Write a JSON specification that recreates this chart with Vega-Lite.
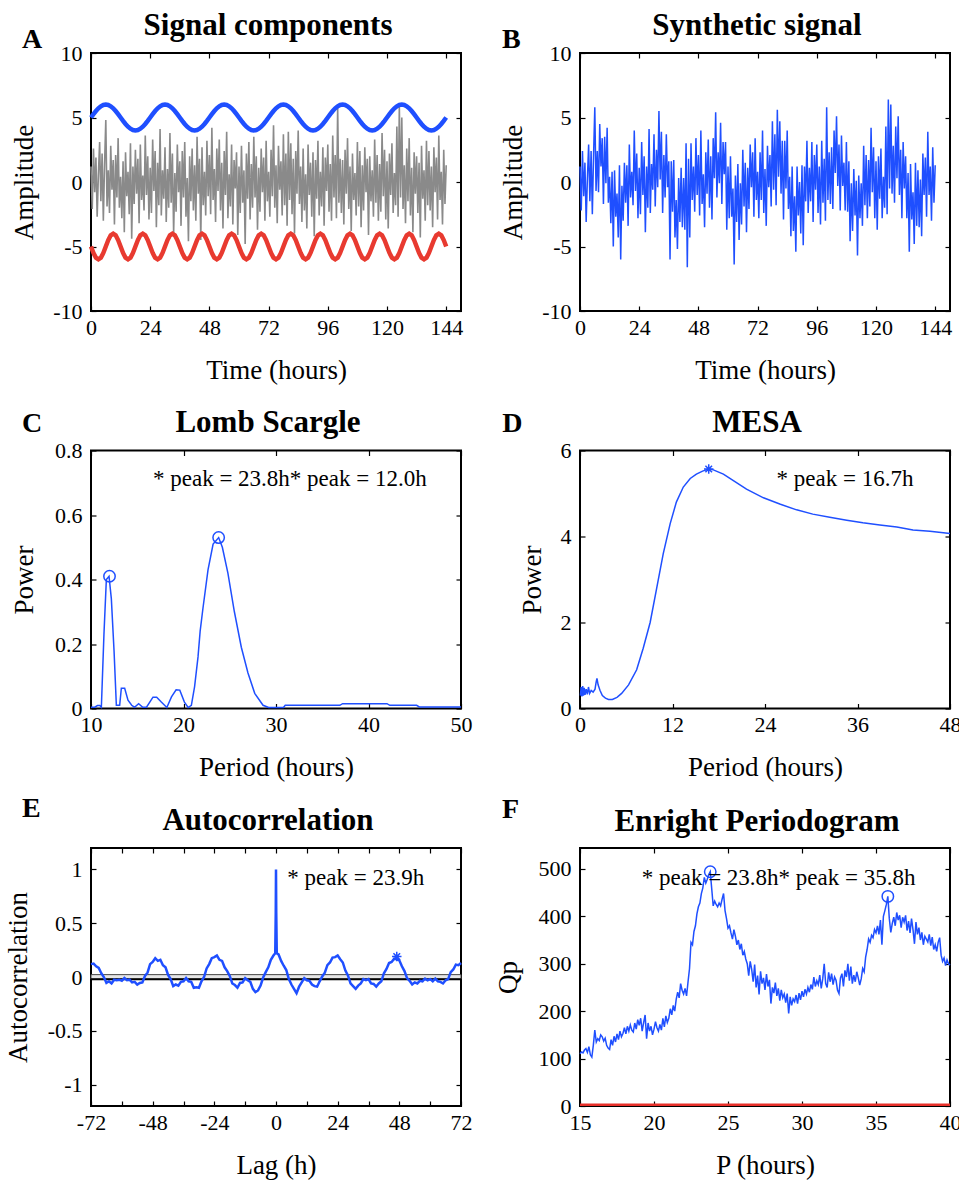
{
"$schema":"https://vega.github.io/schema/vega-lite/v6.json",
"background":"white",
"padding":{"left":3,"top":8,"right":10,"bottom":10},
"bounds":"flush",
"columns":2,
"spacing":{"row":139.5,"column":119},
"config":{
 "view":{"stroke":"black","strokeWidth":2},
 "font":"Liberation Serif",
 "axis":{"grid":false,"domain":false,"tickColor":"black","tickSize":-5,"tickWidth":1.2,"labelFont":"Liberation Serif","labelFontSize":22,"labelColor":"black","labelPadding":14,"labelFlush":false,"labelOverlap":false,"titleFont":"Liberation Serif","titleFontSize":27,"titleFontWeight":"normal","titleColor":"black","titlePadding":16},
 "axisX":{"labelPadding":11,"titlePadding":19},
 "title":{"font":"Liberation Serif","fontSize":31,"fontWeight":"bold","color":"black","offset":19.5,"baseline":"alphabetic","frame":"group","anchor":"middle","dx":-8},
 "text":{"font":"Liberation Serif","fontSize":23,"color":"black"}
},
"datasets":{
 "noise":[
{"t":0,"n":1.2,"b":1.2},{"t":0.5,"n":-2.1,"b":-2.2},{"t":1,"n":2.6,"b":2.4},{"t":1.5,"n":-0.8,"b":-1.1},{"t":2,"n":1.9,"b":1.5},{"t":2.5,"n":-2.7,"b":-3.1},{"t":3,"n":0.6,"b":0.3},{"t":3.5,"n":3.1,"b":2.9},{"t":4,"n":-1.5,"b":-1.5},{"t":4.5,"n":2.2,"b":2.4},{"t":5,"n":-3.0,"b":-2.5},{"t":5.5,"n":1.4,"b":2.1},
{"t":6,"n":4.8,"b":5.8},{"t":6.5,"n":-1.9,"b":-0.7},{"t":7,"n":0.9,"b":2.4},{"t":7.5,"n":-2.4,"b":-0.8},{"t":8,"n":2.8,"b":4.5},{"t":8.5,"n":-0.6,"b":1.2},{"t":9,"n":1.7,"b":3.4},{"t":9.5,"n":-3.3,"b":-1.7},{"t":10,"n":2.1,"b":3.5},{"t":10.5,"n":-1.2,"b":-0.1},{"t":11,"n":3.4,"b":4.2},{"t":11.5,"n":-2.0,"b":-1.6},
{"t":12,"n":0.4,"b":0.4},{"t":12.5,"n":-2.8,"b":-3.2},{"t":13,"n":1.6,"b":0.8},{"t":13.5,"n":-3.9,"b":-5.0},{"t":14,"n":2.3,"b":0.9},{"t":14.5,"n":-1.1,"b":-2.7},{"t":15,"n":0.8,"b":-0.9},{"t":15.5,"n":-2.5,"b":-4.3},{"t":16,"n":3.0,"b":1.3},{"t":16.5,"n":-4.4,"b":-6.0},{"t":17,"n":1.2,"b":-0.3},{"t":17.5,"n":-1.7,"b":-3.0},
{"t":18,"n":2.5,"b":1.5},{"t":18.5,"n":-0.9,"b":-1.6},{"t":19,"n":1.8,"b":1.3},{"t":19.5,"n":-3.2,"b":-3.4},{"t":20,"n":2.9,"b":2.9},{"t":20.5,"n":-1.4,"b":-1.2},{"t":21,"n":0.5,"b":0.8},{"t":21.5,"n":-2.2,"b":-1.8},{"t":22,"n":3.6,"b":4.0},{"t":22.5,"n":-1.0,"b":-0.7},{"t":23,"n":2.0,"b":2.2},{"t":23.5,"n":-2.9,"b":-2.8},
{"t":24,"n":1.1,"b":1.1},{"t":24.5,"n":-2.4,"b":-2.5},{"t":25,"n":3.3,"b":3.1},{"t":25.5,"n":-0.7,"b":-1.0},{"t":26,"n":2.4,"b":2.0},{"t":26.5,"n":-3.5,"b":-3.9},{"t":27,"n":1.5,"b":1.2},{"t":27.5,"n":-1.8,"b":-2.0},{"t":28,"n":4.1,"b":4.1},{"t":28.5,"n":-2.6,"b":-2.4},{"t":29,"n":0.9,"b":1.4},{"t":29.5,"n":-1.3,"b":-0.6},
{"t":30,"n":2.7,"b":3.7},{"t":30.5,"n":-3.1,"b":-1.9},{"t":31,"n":1.0,"b":2.5},{"t":31.5,"n":-2.0,"b":-0.4},{"t":32,"n":3.8,"b":5.5},{"t":32.5,"n":-1.6,"b":0.2},{"t":33,"n":2.2,"b":3.9},{"t":33.5,"n":-4.0,"b":-2.4},{"t":34,"n":0.7,"b":2.1},{"t":34.5,"n":-2.3,"b":-1.2},{"t":35,"n":2.9,"b":3.7},{"t":35.5,"n":-0.8,"b":-0.4},
{"t":36,"n":1.6,"b":1.6},{"t":36.5,"n":-3.4,"b":-6.0},{"t":37,"n":2.4,"b":1.6},{"t":37.5,"n":-1.2,"b":-2.3},{"t":38,"n":3.1,"b":1.7},{"t":38.5,"n":-2.7,"b":-4.3},{"t":39,"n":0.3,"b":-1.4},{"t":39.5,"n":-4.6,"b":-5.2},{"t":40,"n":2.0,"b":0.3},{"t":40.5,"n":-1.5,"b":-3.1},{"t":41,"n":2.6,"b":1.1},{"t":41.5,"n":-2.2,"b":-3.5},
{"t":42,"n":1.3,"b":0.3},{"t":42.5,"n":-3.0,"b":-3.7},{"t":43,"n":3.5,"b":3.0},{"t":43.5,"n":-0.9,"b":-6.6},{"t":44,"n":1.8,"b":1.8},{"t":44.5,"n":-4.5,"b":-4.3},{"t":45,"n":2.7,"b":3.0},{"t":45.5,"n":-1.8,"b":-1.4},{"t":46,"n":0.8,"b":1.2},{"t":46.5,"n":-2.6,"b":-2.3},{"t":47,"n":3.2,"b":3.4},{"t":47.5,"n":-1.1,"b":-1.0},
{"t":48,"n":2.1,"b":2.1},{"t":48.5,"n":-2.5,"b":-2.6},{"t":49,"n":4.2,"b":4.0},{"t":49.5,"n":-1.4,"b":-1.7},{"t":50,"n":1.0,"b":0.6},{"t":50.5,"n":-3.1,"b":-3.5},{"t":51,"n":2.6,"b":2.3},{"t":51.5,"n":-0.7,"b":-0.9},{"t":52,"n":3.3,"b":3.3},{"t":52.5,"n":-2.2,"b":-2.0},{"t":53,"n":1.5,"b":2.0},{"t":53.5,"n":-3.6,"b":-2.9},
{"t":54,"n":2.4,"b":3.4},{"t":54.5,"n":-1.0,"b":0.3},{"t":55,"n":3.9,"b":5.4},{"t":55.5,"n":-2.8,"b":-1.2},{"t":56,"n":0.6,"b":2.3},{"t":56.5,"n":-1.9,"b":-0.1},{"t":57,"n":2.9,"b":4.6},{"t":57.5,"n":-3.3,"b":-1.7},{"t":58,"n":1.7,"b":3.1},{"t":58.5,"n":-0.5,"b":0.6},{"t":59,"n":2.3,"b":3.1},{"t":59.5,"n":-4.1,"b":-3.7},
{"t":60,"n":1.2,"b":1.2},{"t":60.5,"n":-2.4,"b":-2.8},{"t":61,"n":2.8,"b":2.0},{"t":61.5,"n":-1.6,"b":-2.7},{"t":62,"n":0.9,"b":-0.5},{"t":62.5,"n":-4.8,"b":-6.4},{"t":63,"n":2.2,"b":0.5},{"t":63.5,"n":-1.3,"b":-3.1},{"t":64,"n":3.1,"b":1.4},{"t":64.5,"n":-2.9,"b":-4.5},{"t":65,"n":1.4,"b":-0.1},{"t":65.5,"n":-2.0,"b":-3.3},
{"t":66,"n":3.5,"b":2.5},{"t":66.5,"n":-1.2,"b":-1.9},{"t":67,"n":2.0,"b":1.5},{"t":67.5,"n":-3.7,"b":-3.9},{"t":68,"n":1.1,"b":1.1},{"t":68.5,"n":-2.3,"b":-2.1},{"t":69,"n":2.6,"b":2.9},{"t":69.5,"n":-0.8,"b":-0.4},{"t":70,"n":1.9,"b":2.3},{"t":70.5,"n":-3.0,"b":-2.7},{"t":71,"n":3.2,"b":3.4},{"t":71.5,"n":-1.5,"b":-1.4},
{"t":72,"n":0.8,"b":0.8},{"t":72.5,"n":-2.7,"b":-2.8},{"t":73,"n":2.5,"b":2.3},{"t":73.5,"n":-1.1,"b":-1.4},{"t":74,"n":4.4,"b":4.0},{"t":74.5,"n":-2.0,"b":-2.4},{"t":75,"n":1.3,"b":1.0},{"t":75.5,"n":-3.2,"b":-3.4},{"t":76,"n":2.8,"b":2.8},{"t":76.5,"n":-0.6,"b":-0.4},{"t":77,"n":1.6,"b":2.1},{"t":77.5,"n":-2.6,"b":-1.9},
{"t":78,"n":3.7,"b":4.7},{"t":78.5,"n":-1.8,"b":-0.6},{"t":79,"n":2.2,"b":3.7},{"t":79.5,"n":-3.4,"b":-1.8},{"t":80,"n":3.9,"b":5.6},{"t":80.5,"n":-1.4,"b":0.4},{"t":81,"n":3.0,"b":4.7},{"t":81.5,"n":-2.5,"b":-0.9},{"t":82,"n":1.8,"b":3.2},{"t":82.5,"n":-4.0,"b":-2.9},{"t":83,"n":2.4,"b":3.2},{"t":83.5,"n":-0.9,"b":-0.5},
{"t":84,"n":4.0,"b":4.0},{"t":84.5,"n":-1.7,"b":-2.1},{"t":85,"n":1.2,"b":0.4},{"t":85.5,"n":-3.1,"b":-4.2},{"t":86,"n":2.6,"b":1.2},{"t":86.5,"n":-2.2,"b":-3.8},{"t":87,"n":0.6,"b":-1.1},{"t":87.5,"n":-3.6,"b":-5.4},{"t":88,"n":2.9,"b":1.2},{"t":88.5,"n":-1.0,"b":-2.6},{"t":89,"n":1.5,"b":0.0},{"t":89.5,"n":-2.7,"b":-4.0},
{"t":90,"n":2.3,"b":1.3},{"t":90.5,"n":-4.2,"b":-4.9},{"t":91,"n":1.7,"b":1.2},{"t":91.5,"n":-1.3,"b":-1.5},{"t":92,"n":3.2,"b":3.2},{"t":92.5,"n":-2.6,"b":-2.4},{"t":93,"n":0.8,"b":1.1},{"t":93.5,"n":-1.9,"b":-1.5},{"t":94,"n":2.7,"b":3.1},{"t":94.5,"n":-3.4,"b":-3.1},{"t":95,"n":1.9,"b":2.1},{"t":95.5,"n":-0.7,"b":-0.6},
{"t":96,"n":2.9,"b":2.9},{"t":96.5,"n":-2.3,"b":-2.4},{"t":97,"n":1.4,"b":1.2},{"t":97.5,"n":-3.0,"b":-3.3},{"t":98,"n":3.6,"b":3.2},{"t":98.5,"n":-1.2,"b":-1.6},{"t":99,"n":2.1,"b":1.8},{"t":99.5,"n":-2.8,"b":-3.0},{"t":100,"n":5.8,"b":5.8},{"t":100.5,"n":-1.6,"b":-1.4},{"t":101,"n":1.8,"b":2.3},{"t":101.5,"n":-2.4,"b":-1.7},
{"t":102,"n":1.7,"b":2.7},{"t":102.5,"n":-3.3,"b":-2.1},{"t":103,"n":2.5,"b":4.0},{"t":103.5,"n":-0.9,"b":0.7},{"t":104,"n":3.4,"b":5.1},{"t":104.5,"n":-2.1,"b":-0.3},{"t":105,"n":1.2,"b":2.9},{"t":105.5,"n":-3.8,"b":-2.2},{"t":106,"n":2.2,"b":3.6},{"t":106.5,"n":-1.4,"b":-0.3},{"t":107,"n":0.7,"b":1.5},{"t":107.5,"n":-2.6,"b":-2.2},
{"t":108,"n":3.1,"b":3.1},{"t":108.5,"n":-1.9,"b":-2.3},{"t":109,"n":2.4,"b":1.6},{"t":109.5,"n":-3.5,"b":-4.6},{"t":110,"n":1.3,"b":-0.1},{"t":110.5,"n":-2.2,"b":-3.8},{"t":111,"n":2.7,"b":1.0},{"t":111.5,"n":-0.8,"b":-2.6},{"t":112,"n":1.8,"b":0.1},{"t":112.5,"n":-4.1,"b":-5.7},{"t":113,"n":2.0,"b":0.5},{"t":113.5,"n":-1.5,"b":-2.8},
{"t":114,"n":0.9,"b":-0.1},{"t":114.5,"n":-2.7,"b":-3.4},{"t":115,"n":3.3,"b":2.8},{"t":115.5,"n":-1.6,"b":-1.8},{"t":116,"n":2.1,"b":2.1},{"t":116.5,"n":-3.0,"b":-2.8},{"t":117,"n":1.4,"b":1.7},{"t":117.5,"n":-2.3,"b":-1.9},{"t":118,"n":3.8,"b":4.2},{"t":118.5,"n":-1.1,"b":-0.8},{"t":119,"n":2.5,"b":2.7},{"t":119.5,"n":-2.9,"b":-2.8},
{"t":120,"n":1.6,"b":1.6},{"t":120.5,"n":-3.6,"b":-3.7},{"t":121,"n":2.2,"b":2.0},{"t":121.5,"n":-1.0,"b":-1.3},{"t":122,"n":3.0,"b":2.6},{"t":122.5,"n":-2.4,"b":-2.8},{"t":123,"n":0.7,"b":0.4},{"t":123.5,"n":-1.8,"b":-2.0},{"t":124,"n":4.3,"b":4.3},{"t":124.5,"n":-2.7,"b":-2.5},{"t":125,"n":5.9,"b":6.4},{"t":125.5,"n":-1.2,"b":-0.5},
{"t":126,"n":5.0,"b":6.0},{"t":126.5,"n":-2.1,"b":-0.9},{"t":127,"n":1.3,"b":2.8},{"t":127.5,"n":-3.2,"b":-1.6},{"t":128,"n":2.6,"b":4.3},{"t":128.5,"n":-1.5,"b":0.3},{"t":129,"n":3.4,"b":5.1},{"t":129.5,"n":-2.6,"b":-1.0},{"t":130,"n":1.1,"b":2.5},{"t":130.5,"n":-3.9,"b":-2.8},{"t":131,"n":2.3,"b":3.1},{"t":131.5,"n":-0.9,"b":-0.5},
{"t":132,"n":2.0,"b":2.0},{"t":132.5,"n":-2.4,"b":-2.8},{"t":133,"n":1.5,"b":0.7},{"t":133.5,"n":-4.3,"b":-5.4},{"t":134,"n":2.8,"b":1.4},{"t":134.5,"n":-1.3,"b":-2.9},{"t":135,"n":0.9,"b":-0.8},{"t":135.5,"n":-3.0,"b":-4.8},{"t":136,"n":3.2,"b":1.5},{"t":136.5,"n":-1.8,"b":-3.4},{"t":137,"n":2.4,"b":0.9},{"t":137.5,"n":-2.2,"b":-3.5},
{"t":138,"n":1.2,"b":0.2},{"t":138.5,"n":-3.5,"b":-4.2},{"t":139,"n":2.7,"b":2.2},{"t":139.5,"n":-0.8,"b":-1.0},{"t":140,"n":1.9,"b":1.9},{"t":140.5,"n":-2.9,"b":-2.7},{"t":141,"n":3.6,"b":3.9},{"t":141.5,"n":-1.4,"b":-1.0},{"t":142,"n":0.8,"b":1.2},{"t":142.5,"n":-3.3,"b":-3.0},{"t":143,"n":2.5,"b":2.7},{"t":143.5,"n":-1.7,"b":-1.6},
{"t":144,"n":1.3,"b":1.3}
 ],
 "sines":[
{"t":0,"u":5,"r":-5},{"t":1,"u":5.26,"r":-5.5},{"t":2,"u":5.5,"r":-5.87},{"t":3,"u":5.71,"r":-6},{"t":4,"u":5.87,"r":-5.87},{"t":5,"u":5.97,"r":-5.5},{"t":6,"u":6,"r":-5},{"t":7,"u":5.97,"r":-4.5},{"t":8,"u":5.87,"r":-4.13},{"t":9,"u":5.71,"r":-4},{"t":10,"u":5.5,"r":-4.13},{"t":11,"u":5.26,"r":-4.5},
{"t":12,"u":5,"r":-5},{"t":13,"u":4.74,"r":-5.5},{"t":14,"u":4.5,"r":-5.87},{"t":15,"u":4.29,"r":-6},{"t":16,"u":4.13,"r":-5.87},{"t":17,"u":4.03,"r":-5.5},{"t":18,"u":4,"r":-5},{"t":19,"u":4.03,"r":-4.5},{"t":20,"u":4.13,"r":-4.13},{"t":21,"u":4.29,"r":-4},{"t":22,"u":4.5,"r":-4.13},{"t":23,"u":4.74,"r":-4.5},
{"t":24,"u":5,"r":-5},{"t":25,"u":5.26,"r":-5.5},{"t":26,"u":5.5,"r":-5.87},{"t":27,"u":5.71,"r":-6},{"t":28,"u":5.87,"r":-5.87},{"t":29,"u":5.97,"r":-5.5},{"t":30,"u":6,"r":-5},{"t":31,"u":5.97,"r":-4.5},{"t":32,"u":5.87,"r":-4.13},{"t":33,"u":5.71,"r":-4},{"t":34,"u":5.5,"r":-4.13},{"t":35,"u":5.26,"r":-4.5},
{"t":36,"u":5,"r":-5},{"t":37,"u":4.74,"r":-5.5},{"t":38,"u":4.5,"r":-5.87},{"t":39,"u":4.29,"r":-6},{"t":40,"u":4.13,"r":-5.87},{"t":41,"u":4.03,"r":-5.5},{"t":42,"u":4,"r":-5},{"t":43,"u":4.03,"r":-4.5},{"t":44,"u":4.13,"r":-4.13},{"t":45,"u":4.29,"r":-4},{"t":46,"u":4.5,"r":-4.13},{"t":47,"u":4.74,"r":-4.5},
{"t":48,"u":5,"r":-5},{"t":49,"u":5.26,"r":-5.5},{"t":50,"u":5.5,"r":-5.87},{"t":51,"u":5.71,"r":-6},{"t":52,"u":5.87,"r":-5.87},{"t":53,"u":5.97,"r":-5.5},{"t":54,"u":6,"r":-5},{"t":55,"u":5.97,"r":-4.5},{"t":56,"u":5.87,"r":-4.13},{"t":57,"u":5.71,"r":-4},{"t":58,"u":5.5,"r":-4.13},{"t":59,"u":5.26,"r":-4.5},
{"t":60,"u":5,"r":-5},{"t":61,"u":4.74,"r":-5.5},{"t":62,"u":4.5,"r":-5.87},{"t":63,"u":4.29,"r":-6},{"t":64,"u":4.13,"r":-5.87},{"t":65,"u":4.03,"r":-5.5},{"t":66,"u":4,"r":-5},{"t":67,"u":4.03,"r":-4.5},{"t":68,"u":4.13,"r":-4.13},{"t":69,"u":4.29,"r":-4},{"t":70,"u":4.5,"r":-4.13},{"t":71,"u":4.74,"r":-4.5},
{"t":72,"u":5,"r":-5},{"t":73,"u":5.26,"r":-5.5},{"t":74,"u":5.5,"r":-5.87},{"t":75,"u":5.71,"r":-6},{"t":76,"u":5.87,"r":-5.87},{"t":77,"u":5.97,"r":-5.5},{"t":78,"u":6,"r":-5},{"t":79,"u":5.97,"r":-4.5},{"t":80,"u":5.87,"r":-4.13},{"t":81,"u":5.71,"r":-4},{"t":82,"u":5.5,"r":-4.13},{"t":83,"u":5.26,"r":-4.5},
{"t":84,"u":5,"r":-5},{"t":85,"u":4.74,"r":-5.5},{"t":86,"u":4.5,"r":-5.87},{"t":87,"u":4.29,"r":-6},{"t":88,"u":4.13,"r":-5.87},{"t":89,"u":4.03,"r":-5.5},{"t":90,"u":4,"r":-5},{"t":91,"u":4.03,"r":-4.5},{"t":92,"u":4.13,"r":-4.13},{"t":93,"u":4.29,"r":-4},{"t":94,"u":4.5,"r":-4.13},{"t":95,"u":4.74,"r":-4.5},
{"t":96,"u":5,"r":-5},{"t":97,"u":5.26,"r":-5.5},{"t":98,"u":5.5,"r":-5.87},{"t":99,"u":5.71,"r":-6},{"t":100,"u":5.87,"r":-5.87},{"t":101,"u":5.97,"r":-5.5},{"t":102,"u":6,"r":-5},{"t":103,"u":5.97,"r":-4.5},{"t":104,"u":5.87,"r":-4.13},{"t":105,"u":5.71,"r":-4},{"t":106,"u":5.5,"r":-4.13},{"t":107,"u":5.26,"r":-4.5},
{"t":108,"u":5,"r":-5},{"t":109,"u":4.74,"r":-5.5},{"t":110,"u":4.5,"r":-5.87},{"t":111,"u":4.29,"r":-6},{"t":112,"u":4.13,"r":-5.87},{"t":113,"u":4.03,"r":-5.5},{"t":114,"u":4,"r":-5},{"t":115,"u":4.03,"r":-4.5},{"t":116,"u":4.13,"r":-4.13},{"t":117,"u":4.29,"r":-4},{"t":118,"u":4.5,"r":-4.13},{"t":119,"u":4.74,"r":-4.5},
{"t":120,"u":5,"r":-5},{"t":121,"u":5.26,"r":-5.5},{"t":122,"u":5.5,"r":-5.87},{"t":123,"u":5.71,"r":-6},{"t":124,"u":5.87,"r":-5.87},{"t":125,"u":5.97,"r":-5.5},{"t":126,"u":6,"r":-5},{"t":127,"u":5.97,"r":-4.5},{"t":128,"u":5.87,"r":-4.13},{"t":129,"u":5.71,"r":-4},{"t":130,"u":5.5,"r":-4.13},{"t":131,"u":5.26,"r":-4.5},
{"t":132,"u":5,"r":-5},{"t":133,"u":4.74,"r":-5.5},{"t":134,"u":4.5,"r":-5.87},{"t":135,"u":4.29,"r":-6},{"t":136,"u":4.13,"r":-5.87},{"t":137,"u":4.03,"r":-5.5},{"t":138,"u":4,"r":-5},{"t":139,"u":4.03,"r":-4.5},{"t":140,"u":4.13,"r":-4.13},{"t":141,"u":4.29,"r":-4},{"t":142,"u":4.5,"r":-4.13},{"t":143,"u":4.74,"r":-4.5},
{"t":144,"u":5,"r":-5}
 ],
 "ls":[
{"p":10,"v":0.004},{"p":10.4,"v":0.004},{"p":10.7,"v":0.009},{"p":10.95,"v":0.009},{"p":11.12,"v":0.004},{"p":11.4,"v":0.23},{"p":11.66,"v":0.4},{"p":11.95,"v":0.41},{"p":12.2,"v":0.34},{"p":12.49,"v":0.18},{"p":12.74,"v":0.01},{"p":13.1,"v":0.01},{"p":13.28,"v":0.063},{"p":13.64,"v":0.063},{"p":14.0,"v":0.026},{"p":14.4,"v":0.01},{"p":14.7,"v":0.004},{"p":15.15,"v":0.015},{"p":15.6,"v":0.004},{"p":16.0,"v":0.004},{"p":16.7,"v":0.035},{"p":17.1,"v":0.035},{"p":17.6,"v":0.02},{"p":18.2,"v":0.003},{"p":18.7,"v":0.036},{"p":19.2,"v":0.058},{"p":19.6,"v":0.057},{"p":20.1,"v":0.02},{"p":20.5,"v":0.003},{"p":20.85,"v":0.01},{"p":21.2,"v":0.068},{"p":21.57,"v":0.16},{"p":21.8,"v":0.24},{"p":22.1,"v":0.31},{"p":22.65,"v":0.43},{"p":23.2,"v":0.51},{"p":23.8,"v":0.53},{"p":24.2,"v":0.5},{"p":24.8,"v":0.42},{"p":25.5,"v":0.3},{"p":26.25,"v":0.19},{"p":26.97,"v":0.11},{"p":27.7,"v":0.047},{"p":28.6,"v":0.01},{"p":29.2,"v":0.003},{"p":30.8,"v":0.003},{"p":31.0,"v":0.01},{"p":36.9,"v":0.01},{"p":37.2,"v":0.015},{"p":42.0,"v":0.015},{"p":42.3,"v":0.01},{"p":45.2,"v":0.01},{"p":45.5,"v":0.005},{"p":50,"v":0.005}
 ],
 "mesa":[
{"p":0.05,"v":0.3},{"p":0.15,"v":0.5},{"p":0.25,"v":0.28},{"p":0.35,"v":0.52},{"p":0.45,"v":0.3},{"p":0.55,"v":0.48},{"p":0.65,"v":0.32},{"p":0.8,"v":0.45},{"p":0.95,"v":0.33},{"p":1.1,"v":0.5},{"p":1.25,"v":0.35},{"p":1.45,"v":0.42},{"p":1.7,"v":0.38},{"p":1.95,"v":0.45},{"p":2.1,"v":0.62},{"p":2.2,"v":0.7},{"p":2.35,"v":0.55},{"p":2.6,"v":0.42},{"p":2.9,"v":0.3},{"p":3.3,"v":0.24},{"p":3.7,"v":0.21},{"p":4.2,"v":0.21},{"p":4.8,"v":0.26},{"p":5.4,"v":0.35},{"p":6.3,"v":0.55},{"p":7.35,"v":0.9},{"p":8.2,"v":1.4},{"p":9.1,"v":2.0},{"p":9.95,"v":2.8},{"p":10.8,"v":3.6},{"p":11.7,"v":4.3},{"p":12.5,"v":4.8},{"p":13.4,"v":5.15},{"p":14.3,"v":5.35},{"p":15.1,"v":5.45},{"p":15.9,"v":5.52},{"p":16.7,"v":5.57},{"p":17.3,"v":5.55},{"p":18.6,"v":5.45},{"p":19.9,"v":5.3},{"p":21.6,"v":5.1},{"p":23.8,"v":4.9},{"p":26,"v":4.75},{"p":28.1,"v":4.62},{"p":30.2,"v":4.52},{"p":32.4,"v":4.45},{"p":34.6,"v":4.38},{"p":36.7,"v":4.32},{"p":38.9,"v":4.27},{"p":41.1,"v":4.22},{"p":43.2,"v":4.15},{"p":45.4,"v":4.12},{"p":48,"v":4.07}
 ],
 "acf":[
{"l":-72,"c":0.12},{"l":-71,"c":0.125},{"l":-70,"c":0.1},{"l":-69,"c":0.085},{"l":-68,"c":0.035},{"l":-67,"c":0.0},{"l":-66,"c":-0.055},{"l":-65,"c":-0.04},{"l":-64,"c":-0.06},{"l":-63,"c":-0.025},{"l":-62,"c":-0.03},{"l":-61,"c":-0.025},{"l":-60,"c":-0.035},{"l":-59,"c":-0.01},{"l":-58,"c":-0.03},{"l":-57,"c":-0.025},{"l":-56,"c":-0.05},{"l":-55,"c":-0.045},{"l":-54,"c":-0.07},{"l":-53,"c":-0.055},{"l":-52,"c":-0.05},{"l":-51,"c":0.01},{"l":-50,"c":0.04},{"l":-49,"c":0.12},{"l":-48,"c":0.14},{"l":-47,"c":0.175},{"l":-46,"c":0.15},{"l":-45,"c":0.16},{"l":-44,"c":0.11},{"l":-43,"c":0.09},{"l":-42,"c":0.02},{"l":-41,"c":-0.02},{"l":-40,"c":-0.085},{"l":-39,"c":-0.07},{"l":-38,"c":-0.08},{"l":-37,"c":-0.045},{"l":-36,"c":-0.04},{"l":-35,"c":-0.01},{"l":-34,"c":-0.04},{"l":-33,"c":-0.045},{"l":-32,"c":-0.1},{"l":-31,"c":-0.095},{"l":-30,"c":-0.1},{"l":-29,"c":-0.04},{"l":-28,"c":0.0},{"l":-27,"c":0.08},{"l":-26,"c":0.12},{"l":-25,"c":0.175},{"l":-24,"c":0.185},{"l":-23,"c":0.2},{"l":-22,"c":0.16},{"l":-21,"c":0.15},{"l":-20,"c":0.09},{"l":-19,"c":0.055},{"l":-18,"c":0.01},{"l":-17,"c":-0.06},{"l":-16,"c":-0.075},{"l":-15,"c":-0.1},{"l":-14,"c":-0.055},{"l":-13,"c":-0.05},{"l":-12,"c":-0.01},{"l":-11,"c":-0.03},{"l":-10,"c":-0.045},{"l":-9,"c":-0.11},{"l":-8,"c":-0.14},{"l":-7,"c":-0.125},{"l":-6,"c":-0.08},{"l":-5,"c":-0.005},{"l":-4,"c":0.045},{"l":-3,"c":0.09},{"l":-2,"c":0.16},{"l":-1,"c":0.2},
{"l":-0.3,"c":0.22},{"l":-0.1,"c":0.6},{"l":0,"c":1.0},{"l":0.1,"c":0.6},{"l":0.3,"c":0.22},
{"l":1,"c":0.21},{"l":2,"c":0.15},{"l":3,"c":0.105},{"l":4,"c":0.065},{"l":5,"c":-0.02},{"l":6,"c":-0.07},{"l":7,"c":-0.11},{"l":8,"c":-0.15},{"l":9,"c":-0.09},{"l":10,"c":-0.05},{"l":11,"c":-0.01},{"l":12,"c":-0.03},{"l":13,"c":-0.035},{"l":14,"c":-0.07},{"l":15,"c":-0.085},{"l":16,"c":-0.09},{"l":17,"c":-0.04},{"l":18,"c":0.005},{"l":19,"c":0.04},{"l":20,"c":0.11},{"l":21,"c":0.135},{"l":22,"c":0.18},{"l":23,"c":0.185},{"l":24,"c":0.2},{"l":25,"c":0.165},{"l":26,"c":0.135},{"l":27,"c":0.06},{"l":28,"c":0.015},{"l":29,"c":-0.06},{"l":30,"c":-0.085},{"l":31,"c":-0.11},{"l":32,"c":-0.08},{"l":33,"c":-0.06},{"l":34,"c":-0.02},{"l":35,"c":-0.03},{"l":36,"c":-0.02},{"l":37,"c":-0.06},{"l":38,"c":-0.065},{"l":39,"c":-0.09},{"l":40,"c":-0.06},{"l":41,"c":-0.04},{"l":42,"c":0.035},{"l":43,"c":0.075},{"l":44,"c":0.13},{"l":45,"c":0.14},{"l":46,"c":0.17},{"l":47,"c":0.165},{"l":48,"c":0.155},{"l":49,"c":0.1},{"l":50,"c":0.055},{"l":51,"c":-0.01},{"l":52,"c":-0.035},{"l":53,"c":-0.07},{"l":54,"c":-0.05},{"l":55,"c":-0.06},{"l":56,"c":-0.035},{"l":57,"c":-0.04},{"l":58,"c":-0.015},{"l":59,"c":-0.03},{"l":60,"c":-0.02},{"l":61,"c":-0.04},{"l":62,"c":-0.015},{"l":63,"c":-0.04},{"l":64,"c":-0.045},{"l":65,"c":-0.06},{"l":66,"c":-0.03},{"l":67,"c":-0.02},{"l":68,"c":0.045},{"l":69,"c":0.07},{"l":70,"c":0.115},{"l":71,"c":0.11},{"l":72,"c":0.13}
 ],
 "enright":[
{"p":15,"q":110},{"p":15.1,"q":114},{"p":15.2,"q":112},{"p":15.3,"q":118},{"p":15.4,"q":121},{"p":15.5,"q":113},{"p":15.6,"q":125},{"p":15.7,"q":108},{"p":15.8,"q":103},{"p":15.9,"q":128},
{"p":16,"q":160},{"p":16.1,"q":135},{"p":16.2,"q":142},{"p":16.3,"q":138},{"p":16.4,"q":150},{"p":16.5,"q":146},{"p":16.6,"q":137},{"p":16.7,"q":143},{"p":16.8,"q":128},{"p":16.9,"q":122},
{"p":17,"q":119},{"p":17.1,"q":140},{"p":17.2,"q":128},{"p":17.3,"q":147},{"p":17.4,"q":135},{"p":17.5,"q":152},{"p":17.6,"q":140},{"p":17.7,"q":158},{"p":17.8,"q":146},{"p":17.9,"q":153},
{"p":18,"q":165},{"p":18.1,"q":152},{"p":18.2,"q":168},{"p":18.3,"q":158},{"p":18.4,"q":171},{"p":18.5,"q":160},{"p":18.6,"q":156},{"p":18.7,"q":175},{"p":18.8,"q":162},{"p":18.9,"q":182},
{"p":19,"q":170},{"p":19.1,"q":185},{"p":19.2,"q":158},{"p":19.3,"q":176},{"p":19.4,"q":192},{"p":19.5,"q":142},{"p":19.6,"q":175},{"p":19.7,"q":158},{"p":19.8,"q":168},{"p":19.9,"q":150},
{"p":20,"q":162},{"p":20.1,"q":178},{"p":20.2,"q":165},{"p":20.3,"q":158},{"p":20.4,"q":172},{"p":20.5,"q":160},{"p":20.6,"q":185},{"p":20.7,"q":167},{"p":20.8,"q":190},{"p":20.9,"q":176},
{"p":21,"q":185},{"p":21.1,"q":205},{"p":21.2,"q":192},{"p":21.3,"q":212},{"p":21.4,"q":200},{"p":21.5,"q":225},{"p":21.6,"q":240},{"p":21.7,"q":228},{"p":21.8,"q":258},{"p":21.9,"q":244},
{"p":22,"q":236},{"p":22.1,"q":248},{"p":22.2,"q":232},{"p":22.3,"q":262},{"p":22.4,"q":290},{"p":22.5,"q":345},{"p":22.6,"q":340},{"p":22.7,"q":368},{"p":22.8,"q":380},{"p":22.9,"q":405},
{"p":23,"q":420},{"p":23.1,"q":428},{"p":23.2,"q":448},{"p":23.3,"q":460},{"p":23.4,"q":482},{"p":23.5,"q":470},{"p":23.6,"q":478},{"p":23.7,"q":488},{"p":23.8,"q":494},{"p":23.9,"q":458},
{"p":24,"q":422},{"p":24.1,"q":432},{"p":24.2,"q":425},{"p":24.3,"q":420},{"p":24.4,"q":428},{"p":24.5,"q":422},{"p":24.6,"q":436},{"p":24.7,"q":448},{"p":24.8,"q":412},{"p":24.9,"q":395},
{"p":25,"q":375},{"p":25.1,"q":380},{"p":25.2,"q":365},{"p":25.3,"q":352},{"p":25.4,"q":372},{"p":25.5,"q":358},{"p":25.6,"q":340},{"p":25.7,"q":350},{"p":25.8,"q":330},{"p":25.9,"q":342},
{"p":26,"q":318},{"p":26.1,"q":326},{"p":26.2,"q":310},{"p":26.3,"q":300},{"p":26.4,"q":275},{"p":26.5,"q":305},{"p":26.6,"q":288},{"p":26.7,"q":262},{"p":26.8,"q":298},{"p":26.9,"q":250},
{"p":27,"q":275},{"p":27.1,"q":235},{"p":27.2,"q":284},{"p":27.3,"q":258},{"p":27.4,"q":270},{"p":27.5,"q":245},{"p":27.6,"q":278},{"p":27.7,"q":252},{"p":27.8,"q":266},{"p":27.9,"q":216},
{"p":28,"q":250},{"p":28.1,"q":238},{"p":28.2,"q":260},{"p":28.3,"q":232},{"p":28.4,"q":248},{"p":28.5,"q":222},{"p":28.6,"q":245},{"p":28.7,"q":228},{"p":28.8,"q":236},{"p":28.9,"q":218},
{"p":29,"q":237},{"p":29.1,"q":195},{"p":29.2,"q":230},{"p":29.3,"q":212},{"p":29.4,"q":226},{"p":29.5,"q":220},{"p":29.6,"q":234},{"p":29.7,"q":216},{"p":29.8,"q":238},{"p":29.9,"q":224},
{"p":30,"q":242},{"p":30.1,"q":230},{"p":30.2,"q":246},{"p":30.3,"q":236},{"p":30.4,"q":250},{"p":30.5,"q":240},{"p":30.6,"q":256},{"p":30.7,"q":246},{"p":30.8,"q":272},{"p":30.9,"q":252},
{"p":31,"q":264},{"p":31.1,"q":256},{"p":31.2,"q":276},{"p":31.3,"q":248},{"p":31.4,"q":268},{"p":31.5,"q":300},{"p":31.6,"q":258},{"p":31.7,"q":250},{"p":31.8,"q":282},{"p":31.9,"q":262},
{"p":32,"q":279},{"p":32.1,"q":256},{"p":32.2,"q":272},{"p":32.3,"q":265},{"p":32.4,"q":244},{"p":32.5,"q":237},{"p":32.6,"q":270},{"p":32.7,"q":279},{"p":32.8,"q":252},{"p":32.9,"q":286},
{"p":33,"q":272},{"p":33.1,"q":300},{"p":33.2,"q":264},{"p":33.3,"q":294},{"p":33.4,"q":258},{"p":33.5,"q":276},{"p":33.6,"q":262},{"p":33.7,"q":283},{"p":33.8,"q":270},{"p":33.9,"q":255},
{"p":34,"q":268},{"p":34.1,"q":290},{"p":34.2,"q":283},{"p":34.3,"q":314},{"p":34.4,"q":330},{"p":34.5,"q":352},{"p":34.6,"q":345},{"p":34.7,"q":360},{"p":34.8,"q":355},{"p":34.9,"q":372},
{"p":35,"q":365},{"p":35.1,"q":380},{"p":35.2,"q":362},{"p":35.3,"q":392},{"p":35.4,"q":340},{"p":35.5,"q":400},{"p":35.6,"q":412},{"p":35.7,"q":425},{"p":35.8,"q":442},{"p":35.9,"q":395},
{"p":36,"q":366},{"p":36.1,"q":385},{"p":36.2,"q":398},{"p":36.3,"q":380},{"p":36.4,"q":408},{"p":36.5,"q":392},{"p":36.6,"q":402},{"p":36.7,"q":376},{"p":36.8,"q":398},{"p":36.9,"q":388},
{"p":37,"q":402},{"p":37.1,"q":370},{"p":37.2,"q":390},{"p":37.3,"q":365},{"p":37.4,"q":395},{"p":37.5,"q":372},{"p":37.6,"q":342},{"p":37.7,"q":388},{"p":37.8,"q":362},{"p":37.9,"q":376},
{"p":38,"q":350},{"p":38.1,"q":366},{"p":38.2,"q":340},{"p":38.3,"q":358},{"p":38.4,"q":352},{"p":38.5,"q":346},{"p":38.6,"q":362},{"p":38.7,"q":338},{"p":38.8,"q":356},{"p":38.9,"q":330},
{"p":39,"q":340},{"p":39.1,"q":326},{"p":39.2,"q":345},{"p":39.3,"q":355},{"p":39.4,"q":318},{"p":39.5,"q":305},{"p":39.6,"q":312},{"p":39.7,"q":296},{"p":39.8,"q":308},{"p":39.9,"q":300},
{"p":40,"q":297}
 ]
},
"concat":[
 {
  "width":370,"height":258,"title":{"text":"Signal components","dy":35.5},
  "resolve":{"axis":{"x":"independent","y":"independent"}},
  "layer":[
   {"data":{"name":"noise"},"mark":{"type":"line","color":"#8a8a8a","strokeWidth":1.6},
    "encoding":{
     "x":{"field":"t","type":"quantitative","scale":{"domain":[0,150],"nice":false,"zero":false},"axis":{"values":[0,24,48,72,96,120,144],"labelExpr":"toString(datum.value)","title":"Time (hours)"}},
     "y":{"field":"n","type":"quantitative","scale":{"domain":[-10,10],"nice":false,"zero":false},"axis":{"values":[-10,-5,0,5,10],"labelExpr":"toString(datum.value)","title":"Amplitude","titlePadding":14}}}},
   {"data":{"name":"sines"},"mark":{"type":"line","color":"#1f4fff","strokeWidth":4.5},
    "encoding":{"x":{"field":"t","type":"quantitative","axis":null},"y":{"field":"u","type":"quantitative","axis":null}}},
   {"data":{"name":"sines"},"mark":{"type":"line","color":"#e83a30","strokeWidth":4.5},
    "encoding":{"x":{"field":"t","type":"quantitative","axis":null},"y":{"field":"r","type":"quantitative","axis":null}}},
   {"data":{"values":[{}]},"mark":{"type":"text","text":"A","fontSize":28,"fontWeight":"bold","align":"left","baseline":"alphabetic"},
    "encoding":{"x":{"datum":-28,"type":"quantitative","axis":null},"y":{"datum":10.39,"type":"quantitative","axis":null}}},
   {"data":{"values":[{}]},"mark":{"type":"point","opacity":0},
    "encoding":{"x":{"datum":10,"type":"quantitative","axis":{"orient":"top","values":[0,24,48,72,96,120,144],"labels":false,"title":null}},
                "y":{"datum":0,"type":"quantitative","axis":{"orient":"right","values":[-10,-5,0,5,10],"labels":false,"title":null}}}}
  ]
 },
 {
  "width":370,"height":258,"title":{"text":"Synthetic signal","dy":35.5},
  "resolve":{"axis":{"x":"independent","y":"independent"}},
  "layer":[
   {"data":{"name":"noise"},"mark":{"type":"line","color":"#1f4fff","strokeWidth":1.5},
    "encoding":{
     "x":{"field":"t","type":"quantitative","scale":{"domain":[0,150],"nice":false,"zero":false},"axis":{"values":[0,24,48,72,96,120,144],"labelExpr":"toString(datum.value)","title":"Time (hours)"}},
     "y":{"field":"b","type":"quantitative","scale":{"domain":[-10,10],"nice":false,"zero":false},"axis":{"values":[-10,-5,0,5,10],"labelExpr":"toString(datum.value)","title":"Amplitude","titlePadding":14}}}},
   {"data":{"values":[{}]},"mark":{"type":"text","text":"B","fontSize":28,"fontWeight":"bold","align":"left","baseline":"alphabetic"},
    "encoding":{"x":{"datum":-31.6,"type":"quantitative","axis":null},"y":{"datum":10.39,"type":"quantitative","axis":null}}},
   {"data":{"values":[{}]},"mark":{"type":"point","opacity":0},
    "encoding":{"x":{"datum":10,"type":"quantitative","axis":{"orient":"top","values":[0,24,48,72,96,120,144],"labels":false,"title":null}},
                "y":{"datum":0,"type":"quantitative","axis":{"orient":"right","values":[-10,-5,0,5,10],"labels":false,"title":null}}}}
  ]
 },
 {
  "width":370,"height":258,"title":{"text":"Lomb Scargle","dy":48.5},
  "resolve":{"axis":{"x":"independent","y":"independent"}},
  "layer":[
   {"data":{"name":"ls"},"mark":{"type":"line","color":"#1f4fff","strokeWidth":1.5},
    "encoding":{
     "x":{"field":"p","type":"quantitative","scale":{"domain":[10,50],"nice":false,"zero":false},"axis":{"values":[10,20,30,40,50],"labelExpr":"toString(datum.value)","title":"Period (hours)"}},
     "y":{"field":"v","type":"quantitative","scale":{"domain":[0,0.8],"nice":false,"zero":false},"axis":{"values":[0,0.2,0.4,0.6,0.8],"labelExpr":"toString(datum.value)","title":"Power","titlePadding":16}}}},
   {"data":{"values":[{"p":12.0,"v":0.41},{"p":23.8,"v":0.53}]},"mark":{"type":"point","shape":"circle","filled":false,"color":"#1f4fff","size":130,"strokeWidth":1.5,"opacity":1},
    "encoding":{"x":{"field":"p","type":"quantitative","axis":null},"y":{"field":"v","type":"quantitative","axis":null}}},
   {"data":{"values":[{}]},"mark":{"type":"text","text":"* peak = 23.8h* peak = 12.0h","align":"left","baseline":"alphabetic"},
    "encoding":{"x":{"datum":16.7,"type":"quantitative","axis":null},"y":{"datum":0.689,"type":"quantitative","axis":null}}},
   {"data":{"values":[{}]},"mark":{"type":"text","text":"C","fontSize":28,"fontWeight":"bold","align":"left","baseline":"alphabetic"},
    "encoding":{"x":{"datum":2.54,"type":"quantitative","axis":null},"y":{"datum":0.857,"type":"quantitative","axis":null}}},
   {"data":{"values":[{}]},"mark":{"type":"point","opacity":0},
    "encoding":{"x":{"datum":20,"type":"quantitative","axis":{"orient":"top","values":[10,20,30,40,50],"labels":false,"title":null}},
                "y":{"datum":0.2,"type":"quantitative","axis":{"orient":"right","values":[0,0.2,0.4,0.6,0.8],"labels":false,"title":null}}}}
  ]
 },
 {
  "width":370,"height":258,"title":{"text":"MESA","dy":48.5},
  "resolve":{"axis":{"x":"independent","y":"independent"}},
  "layer":[
   {"data":{"name":"mesa"},"mark":{"type":"line","color":"#1f4fff","strokeWidth":1.5},
    "encoding":{
     "x":{"field":"p","type":"quantitative","scale":{"domain":[0,48],"nice":false,"zero":false},"axis":{"values":[0,12,24,36,48],"labelExpr":"toString(datum.value)","title":"Period (hours)"}},
     "y":{"field":"v","type":"quantitative","scale":{"domain":[0,6],"nice":false,"zero":false},"axis":{"values":[0,2,4,6],"labelExpr":"toString(datum.value)","title":"Power","titlePadding":14}}}},
   {"data":{"values":[{"p":16.7,"v":5.57}]},"mark":{"type":"point","shape":"M-1,0L1,0M0,-1L0,1M-0.7,-0.7L0.7,0.7M-0.7,0.7L0.7,-0.7","filled":false,"color":"#1f4fff","size":90,"strokeWidth":1.5,"opacity":1},
    "encoding":{"x":{"field":"p","type":"quantitative","axis":null},"y":{"field":"v","type":"quantitative","axis":null}}},
   {"data":{"values":[{}]},"mark":{"type":"text","text":"* peak = 16.7h","align":"left","baseline":"alphabetic"},
    "encoding":{"x":{"datum":25.5,"type":"quantitative","axis":null},"y":{"datum":5.17,"type":"quantitative","axis":null}}},
   {"data":{"values":[{}]},"mark":{"type":"text","text":"D","fontSize":28,"fontWeight":"bold","align":"left","baseline":"alphabetic"},
    "encoding":{"x":{"datum":-10.1,"type":"quantitative","axis":null},"y":{"datum":6.43,"type":"quantitative","axis":null}}},
   {"data":{"values":[{}]},"mark":{"type":"point","opacity":0},
    "encoding":{"x":{"datum":12,"type":"quantitative","axis":{"orient":"top","values":[0,12,24,36,48],"labels":false,"title":null}},
                "y":{"datum":2,"type":"quantitative","axis":{"orient":"right","values":[0,2,4,6],"labels":false,"title":null}}}}
  ]
 },
 {
  "width":370,"height":258,"title":{"text":"Autocorrelation","dy":61.5},
  "resolve":{"axis":{"x":"independent","y":"independent"}},
  "layer":[
   {"data":{"values":[{}]},"mark":{"type":"rect","fill":"#e6e6e6","stroke":"#444444","strokeWidth":1},
    "encoding":{"x":{"datum":-72,"type":"quantitative","scale":{"domain":[-72,72],"nice":false,"zero":false},"axis":{"values":[-72,-60,-48,-36,-24,-12,0,12,24,36,48,60,72],"labelExpr":"datum.value % 24 === 0 ? toString(datum.value) : ''","title":"Lag (h)"}},
                "x2":{"datum":72},
                "y":{"datum":-0.02,"type":"quantitative","scale":{"domain":[-1.2,1.2],"nice":false,"zero":false},"axis":{"values":[-1,-0.5,0,0.5,1],"labelExpr":"toString(datum.value)","title":"Autocorrelation","titlePadding":15}},
                "y2":{"datum":0.022}}},
   {"data":{"values":[{}]},"mark":{"type":"rule","color":"black","strokeWidth":2},
    "encoding":{"y":{"datum":-0.02,"type":"quantitative","axis":null}}},
   {"data":{"name":"acf"},"mark":{"type":"line","color":"#1f4fff","strokeWidth":2.5},
    "encoding":{"x":{"field":"l","type":"quantitative","axis":null},"y":{"field":"c","type":"quantitative","axis":null}}},
   {"data":{"values":[{"l":47,"c":0.19}]},"mark":{"type":"point","shape":"M-1,0L1,0M0,-1L0,1M-0.7,-0.7L0.7,0.7M-0.7,0.7L0.7,-0.7","filled":false,"color":"#1f4fff","size":90,"strokeWidth":1.5,"opacity":1},
    "encoding":{"x":{"field":"l","type":"quantitative","axis":null},"y":{"field":"c","type":"quantitative","axis":null}}},
   {"data":{"values":[{}]},"mark":{"type":"text","text":"* peak = 23.9h","align":"left","baseline":"alphabetic"},
    "encoding":{"x":{"datum":4.4,"type":"quantitative","axis":null},"y":{"datum":0.856,"type":"quantitative","axis":null}}},
   {"data":{"values":[{}]},"mark":{"type":"text","text":"E","fontSize":28,"fontWeight":"bold","align":"left","baseline":"alphabetic"},
    "encoding":{"x":{"datum":-98.9,"type":"quantitative","axis":null},"y":{"datum":1.488,"type":"quantitative","axis":null}}},
   {"data":{"values":[{}]},"mark":{"type":"point","opacity":0},
    "encoding":{"x":{"datum":0,"type":"quantitative","axis":{"orient":"top","values":[-72,-60,-48,-36,-24,-12,0,12,24,36,48,60,72],"labels":false,"title":null}},
                "y":{"datum":0,"type":"quantitative","axis":{"orient":"right","values":[-1,-0.5,0,0.5,1],"labels":false,"title":null}}}}
  ]
 },
 {
  "width":370,"height":258,"title":{"text":"Enright Periodogram","dy":61.5},
  "resolve":{"axis":{"x":"independent","y":"independent"}},
  "layer":[
   {"data":{"name":"enright"},"mark":{"type":"line","color":"#1f4fff","strokeWidth":1.5},
    "encoding":{
     "x":{"field":"p","type":"quantitative","scale":{"domain":[15,40],"nice":false,"zero":false},"axis":{"values":[15,20,25,30,35,40],"labelExpr":"toString(datum.value)","title":"P (hours)"}},
     "y":{"field":"q","type":"quantitative","scale":{"domain":[0,544],"nice":false,"zero":false},"axis":{"values":[0,100,200,300,400,500],"labelExpr":"toString(datum.value)","title":"Qp","titlePadding":16}}}},
   {"data":{"values":[{}]},"mark":{"type":"rule","color":"#e8302a","strokeWidth":2.5},
    "encoding":{"y":{"datum":2.5,"type":"quantitative","axis":null}}},
   {"data":{"values":[{"p":23.8,"q":494},{"p":35.8,"q":442}]},"mark":{"type":"point","shape":"circle","filled":false,"color":"#1f4fff","size":130,"strokeWidth":1.5,"opacity":1},
    "encoding":{"x":{"field":"p","type":"quantitative","axis":null},"y":{"field":"q","type":"quantitative","axis":null}}},
   {"data":{"values":[{}]},"mark":{"type":"text","text":"* peak = 23.8h* peak = 35.8h","align":"left","baseline":"alphabetic"},
    "encoding":{"x":{"datum":19.17,"type":"quantitative","axis":null},"y":{"datum":465,"type":"quantitative","axis":null}}},
   {"data":{"values":[{}]},"mark":{"type":"text","text":"F","fontSize":28,"fontWeight":"bold","align":"left","baseline":"alphabetic"},
    "encoding":{"x":{"datum":9.73,"type":"quantitative","axis":null},"y":{"datum":608,"type":"quantitative","axis":null}}},
   {"data":{"values":[{}]},"mark":{"type":"point","opacity":0},
    "encoding":{"x":{"datum":20,"type":"quantitative","axis":{"orient":"top","values":[15,20,25,30,35,40],"labels":false,"title":null}},
                "y":{"datum":100,"type":"quantitative","axis":{"orient":"right","values":[0,100,200,300,400,500],"labels":false,"title":null}}}}
  ]
 }
]
}
